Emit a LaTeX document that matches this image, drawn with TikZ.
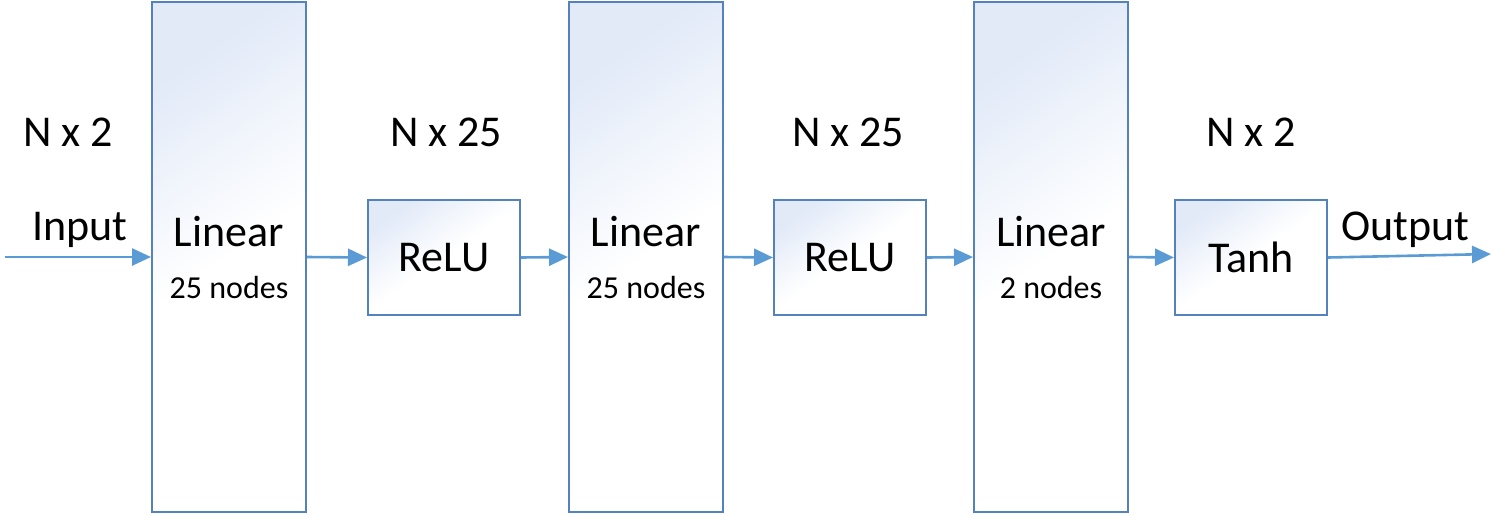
\documentclass[tikz,border=0pt]{standalone}
\usepackage{fontspec}
\setmainfont{Carlito}
\usepackage{tikz}
\definecolor{lineBlue}{RGB}{91,155,213}
\definecolor{edgeBlue}{RGB}{84,130,190}
\definecolor{paleBlue}{RGB}{226,234,248}
\usetikzlibrary{arrows.meta}

\tikzset{
    layer/.style={draw=edgeBlue, line width=1pt, inner sep=0pt, align=center,
        top color=paleBlue, bottom color=white, middle color=white, shading angle=35,
        font=\fontsize{22}{28}\selectfont},
    tall/.style={layer, minimum width=77pt, minimum height=255pt},
    small/.style={layer, minimum width=76pt, minimum height=57.5pt},
    flow/.style={lineBlue, line width=1.3pt, -{Triangle[length=9.5pt,width=8.5pt]}},
    dims/.style={font=\fontsize{22}{26}\selectfont, anchor=base}
}
\newcommand{\nodecount}[1]{{\fontsize{16}{20}\selectfont #1}}

\begin{document}
\begin{tikzpicture}[x=0.5pt,y=-0.5pt]
        \useasboundingbox (0,0) rectangle (1494,515);

        \node[tall]  (linA)  at ( 229,257) {Linear\\[-2pt]\nodecount{25 nodes}};
        \node[small] (reluA) at ( 444,257.5) {ReLU};
        \node[tall]  (linB)  at ( 646,257) {Linear\\[-2pt]\nodecount{25 nodes}};
        \node[small] (reluB) at ( 850,257.5) {ReLU};
        \node[tall]  (linC)  at (1051,257) {Linear\\[-2pt]\nodecount{2 nodes}};
        \node[small] (tanhC) at (1251,257.5) {Tanh};

        \node[dims] (dimIn)  at (  68,146) {N x 2};
        \node[dims] (dimA)   at ( 446,146) {N x 25};
        \node[dims] (dimB)   at ( 848,146) {N x 25};
        \node[dims] (dimOut) at (1251,146) {N x 2};
        \node[dims] (inTxt)  at (  80,240) {Input};
        \node[dims] (outTxt) at (1405,240) {Output};

        \coordinate (inStart) at (5,257);
        \coordinate (outEnd)  at (1491,254);

        \draw[flow] (inStart) -- (linA.west);
        \draw[flow] (linA.east) -- (reluA.west);
        \draw[flow] (reluA.east) -- (linB.west);
        \draw[flow] (linB.east) -- (reluB.west);
        \draw[flow] (reluB.east) -- (linC.west);
        \draw[flow] (linC.east) -- (tanhC.west);
        \draw[flow] (tanhC.east) -- (outEnd);
    \end{tikzpicture}
\end{document}
